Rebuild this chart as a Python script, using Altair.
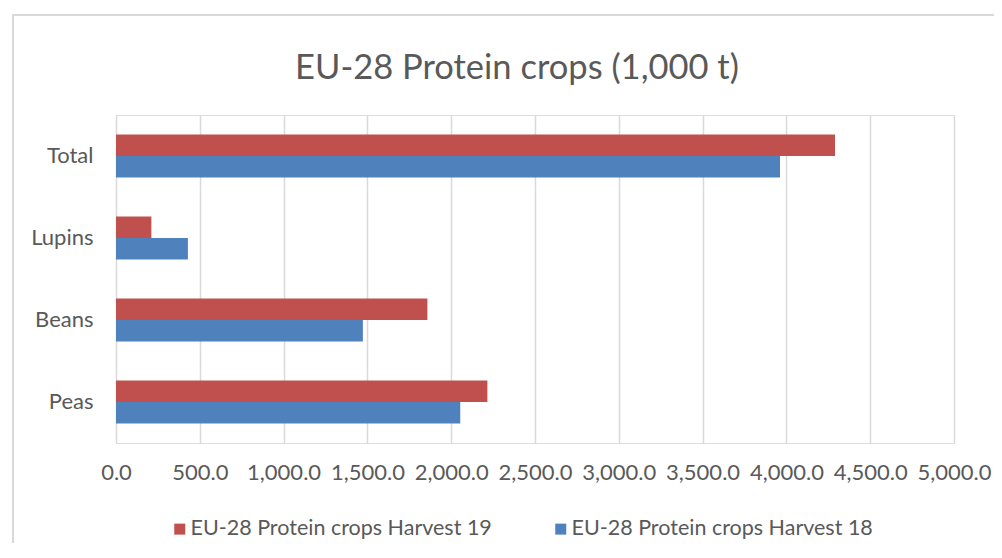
import altair as alt
import pandas as pd

categories = ["Total", "Lupins", "Beans", "Peas"]
series_names = ["EU-28 Protein crops Harvest 19", "EU-28 Protein crops Harvest 18"]
harvest19 = [4290, 211, 1858, 2216]
harvest18 = [3962, 429, 1473, 2054]
x_ticks = [0, 500, 1000, 1500, 2000, 2500, 3000, 3500, 4000, 4500, 5000]
colors = ["#C0504D", "#4F81BD"]
title_text = "EU-28 Protein crops (1,000 t)"

rows = []
for c, v in zip(categories, harvest19):
    rows.append({"crop": c, "series": series_names[0], "value": v})
for c, v in zip(categories, harvest18):
    rows.append({"crop": c, "series": series_names[1], "value": v})
df = pd.DataFrame(rows)

FONT = "Lato"
TXT = "#595959"

one = pd.DataFrame({"k": [0]})

frame = alt.Chart(one).mark_rect(
    fill="white", fillOpacity=0, stroke="#D9D9D9", strokeWidth=2
).encode(
    x=alt.value(-103), x2=alt.value(920), y=alt.value(-100), y2=alt.value(480)
)

title = alt.Chart(one).mark_text(
    text=title_text, font=FONT, fontSize=34.5, color=TXT,
    align="center", baseline="alphabetic"
).encode(x=alt.value(401), y=alt.value(-36))

bars = alt.Chart(df).mark_bar().encode(
    x=alt.X("value:Q",
            scale=alt.Scale(domain=[0, 5000], nice=False),
            axis=alt.Axis(values=x_ticks, format=",.1f", title=None,
                          domain=False, ticks=False, grid=True,
                          gridColor="#D9D9D9", gridWidth=1.5,
                          labelFont=FONT, labelFontSize=22, labelColor=TXT,
                          labelPadding=19, labelFlush=False)),
    y=alt.Y("crop:N", sort=categories,
            scale=alt.Scale(paddingInner=0.476, paddingOuter=0.238),
            axis=alt.Axis(title=None, domain=False, ticks=False, grid=False,
                          labelFont=FONT, labelFontSize=22, labelColor=TXT,
                          labelPadding=23)),
    yOffset=alt.YOffset("series:N", sort=series_names,
                        scale=alt.Scale(paddingInner=0, paddingOuter=0)),
    color=alt.Color("series:N",
                    scale=alt.Scale(domain=series_names, range=colors),
                    legend=alt.Legend(title=None, orient="none",
                                      direction="horizontal", columns=2,
                                      legendX=53, legendY=403,
                                      symbolType="square", symbolSize=121,
                                      symbolStrokeWidth=0,
                                      labelFont=FONT, labelFontSize=21.5,
                                      labelColor=TXT, labelOffset=0,
                                      labelLimit=500, columnPadding=58,
                                      padding=0)),
)

chart = alt.layer(frame, bars, title).properties(
    width=838,
    height=328,
    padding={"left": 108, "top": 107, "right": 40, "bottom": 100},
    autosize=alt.AutoSizeParams(type="none"),
).configure_view(stroke=None).configure(background="white")

chart.save("out.html", embed_options={"renderer": "svg", "actions": False})
